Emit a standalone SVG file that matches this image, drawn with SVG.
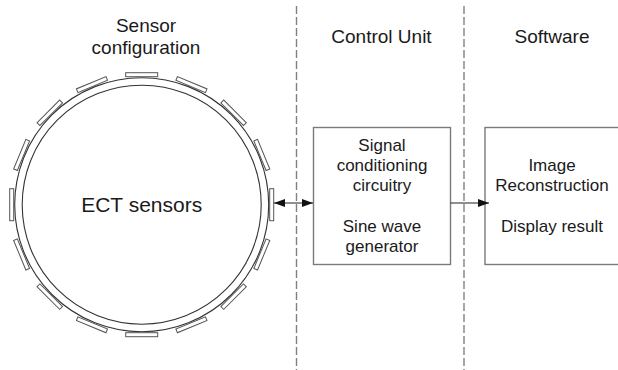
<svg xmlns="http://www.w3.org/2000/svg" width="618" height="370" viewBox="0 0 618 370">
<style>
text{font-family:"Liberation Sans",Arial,sans-serif;fill:#1a1a1a;text-anchor:middle}
.title{font-size:19px}
.lbl{font-size:17px}
.box{fill:#fff;stroke:#7a7a7a;stroke-width:1.4}
.sep{stroke:#808080;stroke-width:1.4;stroke-dasharray:8 3;fill:none}
.ring{fill:none;stroke:#333;stroke-width:1.1}
.el{fill:#fff;stroke:#555;stroke-width:1}
.conn{stroke:#222;stroke-width:1.1;fill:none}
</style>
<defs>
<marker id="ah" viewBox="0 0 11 8" refX="11" refY="4" markerWidth="11" markerHeight="8" markerUnits="userSpaceOnUse" orient="auto-start-reverse">
<path d="M0,0 L11,4 L0,8 Z" fill="#111"/>
</marker>
<rect id="electrode" class="el" x="-16" y="-132" width="32" height="4"/>
</defs>
<rect width="618" height="370" fill="#fff"/>
<g id="separators">
<line class="sep" x1="296.5" y1="6" x2="296.5" y2="370"/>
<line class="sep" x1="464" y1="6" x2="464" y2="370"/>
</g>
<g id="titles">
<text class="title" x="146" y="31.5">Sensor</text>
<text class="title" x="146" y="53.5">configuration</text>
<text class="title" x="381.5" y="42.5">Control Unit</text>
<text class="title" x="552" y="42.5">Software</text>
</g>
<g id="sensor" transform="translate(141.7,204.7)">
<circle class="ring" r="127"/>
<circle class="ring" r="119.5"/>
<use href="#electrode" transform="rotate(0)"/>
<use href="#electrode" transform="rotate(22.5)"/>
<use href="#electrode" transform="rotate(45)"/>
<use href="#electrode" transform="rotate(67.5)"/>
<use href="#electrode" transform="rotate(90)"/>
<use href="#electrode" transform="rotate(112.5)"/>
<use href="#electrode" transform="rotate(135)"/>
<use href="#electrode" transform="rotate(157.5)"/>
<use href="#electrode" transform="rotate(180)"/>
<use href="#electrode" transform="rotate(202.5)"/>
<use href="#electrode" transform="rotate(225)"/>
<use href="#electrode" transform="rotate(247.5)"/>
<use href="#electrode" transform="rotate(270)"/>
<use href="#electrode" transform="rotate(292.5)"/>
<use href="#electrode" transform="rotate(315)"/>
<use href="#electrode" transform="rotate(337.5)"/>
<text x="0" y="7.5" style="font-size:21px">ECT sensors</text>
</g>
<g id="control-unit">
<rect class="box" x="313.5" y="127.5" width="137" height="137"/>
<text class="lbl" x="382" y="150.5">Signal</text>
<text class="lbl" x="382" y="170.5">conditioning</text>
<text class="lbl" x="382" y="190.5">circuitry</text>
<text class="lbl" x="382" y="231.5">Sine wave</text>
<text class="lbl" x="382" y="251.5">generator</text>
</g>
<g id="software">
<rect class="box" x="485" y="127.5" width="140" height="137"/>
<text class="lbl" x="552" y="170.5">Image</text>
<text class="lbl" x="552" y="190.5">Reconstruction</text>
<text class="lbl" x="552" y="231.5">Display result</text>
</g>
<g id="connectors">
<line class="conn" x1="274" y1="203" x2="313" y2="203" marker-start="url(#ah)" marker-end="url(#ah)"/>
<line class="conn" x1="450.5" y1="203" x2="489" y2="203" marker-end="url(#ah)"/>
</g>
</svg>
